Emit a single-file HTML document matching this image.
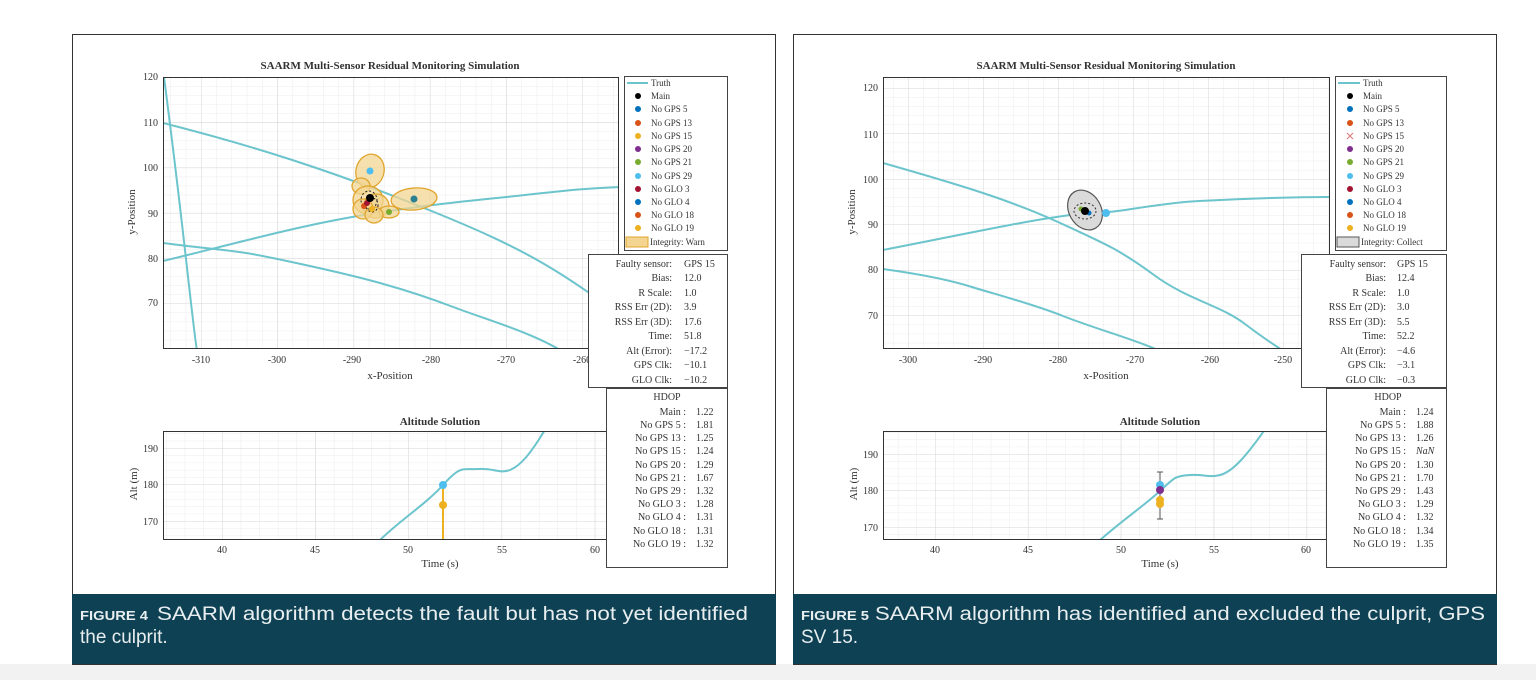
<!DOCTYPE html>
<html><head><meta charset="utf-8"><style>
html,body{margin:0;padding:0;background:#fff;width:1536px;height:680px;overflow:hidden}
svg{display:block}
.t{font-family:"Liberation Serif",serif;fill:#333}
.c{font-family:"Liberation Sans",sans-serif;fill:#e8eef0}
</style></head><body>
<svg width="1536" height="680" viewBox="0 0 1536 680" xmlns="http://www.w3.org/2000/svg">
<defs>
<pattern id="g1" patternUnits="userSpaceOnUse" x="201" y="77" width="15.26" height="9.06"><path d="M0 0V9.06M0 0H15.26" stroke="#ececec" stroke-width="1" fill="none"/></pattern>
<pattern id="G1" patternUnits="userSpaceOnUse" x="201" y="77" width="76.3" height="45.3"><path d="M0 0V45.3M0 0H76.3" stroke="#d6d6d6" stroke-width="1" fill="none"/></pattern>
<pattern id="g2" patternUnits="userSpaceOnUse" x="908" y="88" width="15" height="9.1"><path d="M0 0V9.1M0 0H15" stroke="#ececec" stroke-width="1" fill="none"/></pattern>
<pattern id="G2" patternUnits="userSpaceOnUse" x="908" y="88" width="75" height="45.5"><path d="M0 0V45.5M0 0H75" stroke="#d6d6d6" stroke-width="1" fill="none"/></pattern>
<pattern id="a1" patternUnits="userSpaceOnUse" x="222" y="448" width="18.64" height="7.3"><path d="M0 0V7.3M0 0H18.64" stroke="#ececec" stroke-width="1" fill="none"/></pattern>
<pattern id="A1" patternUnits="userSpaceOnUse" x="222" y="448" width="93.2" height="36.5"><path d="M0 0V36.5M0 0H93.2" stroke="#d6d6d6" stroke-width="1" fill="none"/></pattern>
<pattern id="a2" patternUnits="userSpaceOnUse" x="935" y="454" width="18.58" height="7.3"><path d="M0 0V7.3M0 0H18.58" stroke="#ececec" stroke-width="1" fill="none"/></pattern>
<pattern id="A2" patternUnits="userSpaceOnUse" x="935" y="454" width="92.9" height="36.5"><path d="M0 0V36.5M0 0H92.9" stroke="#d6d6d6" stroke-width="1" fill="none"/></pattern>
<clipPath id="c1"><rect x="163" y="77" width="455" height="271"/></clipPath>
<clipPath id="c2"><rect x="883" y="77" width="446" height="271"/></clipPath>
<clipPath id="ca1"><rect x="163" y="431" width="554" height="108"/></clipPath>
<clipPath id="ca2"><rect x="883" y="431" width="554" height="108"/></clipPath>
</defs>
<rect x="0" y="664" width="1536" height="16" fill="#f2f2f2"/>

<!-- ================= PANEL 1 ================= -->
<rect x="72.5" y="34.5" width="703" height="630" fill="#fff" stroke="#333" stroke-width="1"/>
<text class="t" x="390" y="69" font-size="11" font-weight="bold" text-anchor="middle">SAARM Multi-Sensor Residual Monitoring Simulation</text>
<rect x="163" y="77" width="455" height="271" fill="url(#g1)"/>
<rect x="163" y="77" width="455" height="271" fill="url(#G1)"/>
<g clip-path="url(#c1)" fill="none" stroke="#6cc4cc" stroke-width="2">
<path d="M164 77 Q176 170 186 259 T197 350"/>
<path d="M163 123 C250 145 330 170 429 210 S 560 270 640 330"/>
<path d="M163 261 C230 245 300 225 370 214 S 480 200 525 195 S 590 188 620 187"/>
<path d="M163 243 C200 248 230 250 252 254 S 330 270 365 279 S 430 298 456 308 S 530 332 560 350"/>
</g>
<g clip-path="url(#c1)">
<g fill="#f3d591" fill-opacity="0.75" stroke="#e0a52e" stroke-width="1.3">
<ellipse cx="370" cy="171" rx="14" ry="17" transform="rotate(15 370 171)"/>
<ellipse cx="414" cy="199" rx="23" ry="11" transform="rotate(-5 414 199)"/>
<ellipse cx="361" cy="186" rx="9" ry="8"/>
<ellipse cx="368" cy="200" rx="15" ry="14"/>
<ellipse cx="376" cy="206" rx="13" ry="12"/>
<ellipse cx="363" cy="209" rx="10" ry="10"/>
<ellipse cx="389" cy="212" rx="10" ry="6"/>
<ellipse cx="374" cy="215" rx="9" ry="8"/>
</g>
<g fill="none" stroke="#222" stroke-width="1" stroke-dasharray="2 2">
<ellipse cx="369" cy="200" rx="8" ry="9"/><ellipse cx="372" cy="205" rx="6" ry="7"/>
</g>
<circle cx="370" cy="171" r="3.5" fill="#4dbeee"/>
<circle cx="414" cy="199" r="3.5" fill="#2d7f92"/>
<circle cx="389" cy="212" r="3" fill="#77ac30"/>
<circle cx="364" cy="206" r="3" fill="#d95319"/>
<circle cx="367" cy="203" r="3" fill="#a2142f"/>
<circle cx="372" cy="209" r="3" fill="#edb120"/>
<circle cx="370" cy="198" r="4" fill="#000"/>
</g>
<rect x="163.5" y="77.5" width="455" height="271" fill="none" stroke="#333"/>
<g class="t" font-size="10" text-anchor="end">
<text x="158" y="80">120</text><text x="158" y="126">110</text><text x="158" y="171">100</text><text x="158" y="217">90</text><text x="158" y="262">80</text><text x="158" y="306">70</text>
</g>
<g class="t" font-size="10" text-anchor="middle">
<text x="201" y="363">-310</text><text x="277" y="363">-300</text><text x="352" y="363">-290</text><text x="431" y="363">-280</text><text x="506" y="363">-270</text><text x="582" y="363">-260</text>
</g>
<text class="t" x="390" y="379" font-size="11" text-anchor="middle">x-Position</text>
<text class="t" x="135" y="212" font-size="11" text-anchor="middle" transform="rotate(-90 135 212)">y-Position</text>

<!-- legend 1 -->
<rect x="624.5" y="76.5" width="103" height="174" fill="#fff" stroke="#444"/>
<g class="t" font-size="9">
<line x1="627" y1="83" x2="648" y2="83" stroke="#6cc4cc" stroke-width="2"/><text x="651" y="86">Truth</text>
<circle cx="638" cy="96" r="3" fill="#000"/><text x="651" y="99">Main</text>
<circle cx="638" cy="109" r="3" fill="#0072bd"/><text x="651" y="112">No GPS 5</text>
<circle cx="638" cy="123" r="3" fill="#d95319"/><text x="651" y="126">No GPS 13</text>
<circle cx="638" cy="136" r="3" fill="#edb120"/><text x="651" y="139">No GPS 15</text>
<circle cx="638" cy="149" r="3" fill="#7e2f8e"/><text x="651" y="152">No GPS 20</text>
<circle cx="638" cy="162" r="3" fill="#77ac30"/><text x="651" y="165">No GPS 21</text>
<circle cx="638" cy="176" r="3" fill="#4dbeee"/><text x="651" y="179">No GPS 29</text>
<circle cx="638" cy="189" r="3" fill="#a2142f"/><text x="651" y="192">No GLO 3</text>
<circle cx="638" cy="202" r="3" fill="#0072bd"/><text x="651" y="205">No GLO 4</text>
<circle cx="638" cy="215" r="3" fill="#d95319"/><text x="651" y="218">No GLO 18</text>
<circle cx="638" cy="228" r="3" fill="#edb120"/><text x="651" y="231">No GLO 19</text>
<rect x="626" y="237" width="22" height="10" fill="#f3d591" stroke="#e0a52e"/><text x="650" y="245">Integrity: Warn</text>
</g>
<!-- info 1 -->
<rect x="588.5" y="254.5" width="139" height="133" fill="#fff" stroke="#444"/>
<g class="t" font-size="10">
<g text-anchor="end">
<text x="672" y="267">Faulty sensor:</text><text x="672" y="281">Bias:</text><text x="672" y="296">R Scale:</text><text x="672" y="310">RSS Err (2D):</text><text x="672" y="325">RSS Err (3D):</text><text x="672" y="339">Time:</text><text x="672" y="354">Alt (Error):</text><text x="672" y="368">GPS Clk:</text><text x="672" y="383">GLO Clk:</text>
</g>
<text x="684" y="267">GPS 15</text><text x="684" y="281">12.0</text><text x="684" y="296">1.0</text><text x="684" y="310">3.9</text><text x="684" y="325">17.6</text><text x="684" y="339">51.8</text><text x="684" y="354">−17.2</text><text x="684" y="368">−10.1</text><text x="684" y="383">−10.2</text>
</g>

<!-- alt 1 -->
<text class="t" x="440" y="425" font-size="11" font-weight="bold" text-anchor="middle">Altitude Solution</text>
<rect x="163" y="431" width="554" height="108" fill="url(#a1)"/>
<rect x="163" y="431" width="554" height="108" fill="url(#A1)"/>
<g clip-path="url(#ca1)">
<path d="M379 541 C400 520 425 505 443 485 S 462 470 478 469 S 500 474 510 470 S 530 455 546 428" fill="none" stroke="#6cc4cc" stroke-width="2"/>
<line x1="443" y1="486" x2="443" y2="540" stroke="#edb120" stroke-width="2"/>
<circle cx="443" cy="505" r="4" fill="#edb120"/>
<circle cx="443" cy="485" r="4" fill="#4dbeee"/>
</g>
<rect x="163.5" y="431.5" width="554" height="108" fill="none" stroke="#333"/>
<g class="t" font-size="10" text-anchor="end">
<text x="158" y="452">190</text><text x="158" y="488">180</text><text x="158" y="525">170</text>
</g>
<g class="t" font-size="10" text-anchor="middle">
<text x="222" y="553">40</text><text x="315" y="553">45</text><text x="408" y="553">50</text><text x="502" y="553">55</text><text x="595" y="553">60</text>
</g>
<text class="t" x="440" y="567" font-size="11" text-anchor="middle">Time (s)</text>
<text class="t" x="137" y="484" font-size="11" text-anchor="middle" transform="rotate(-90 137 484)">Alt (m)</text>
<!-- hdop 1 -->
<rect x="606.5" y="388.5" width="121" height="179" fill="#fff" stroke="#444"/>
<g class="t" font-size="10">
<text x="667" y="400" text-anchor="middle">HDOP</text>
<g text-anchor="end">
<text x="686" y="415">Main :</text><text x="686" y="428">No GPS 5 :</text><text x="686" y="441">No GPS 13 :</text><text x="686" y="454">No GPS 15 :</text><text x="686" y="468">No GPS 20 :</text><text x="686" y="481">No GPS 21 :</text><text x="686" y="494">No GPS 29 :</text><text x="686" y="507">No GLO 3 :</text><text x="686" y="520">No GLO 4 :</text><text x="686" y="534">No GLO 18 :</text><text x="686" y="547">No GLO 19 :</text>
</g>
<text x="696" y="415">1.22</text><text x="696" y="428">1.81</text><text x="696" y="441">1.25</text><text x="696" y="454">1.24</text><text x="696" y="468">1.29</text><text x="696" y="481">1.67</text><text x="696" y="494">1.32</text><text x="696" y="507">1.28</text><text x="696" y="520">1.31</text><text x="696" y="534">1.31</text><text x="696" y="547">1.32</text>
</g>
<!-- caption 1 -->
<rect x="72" y="594" width="704" height="70" fill="#0e4153"/>
<text class="c" x="80" y="620" font-size="13" font-weight="bold" textLength="68" lengthAdjust="spacingAndGlyphs">FIGURE 4</text>
<text class="c" x="157" y="620" font-size="19" textLength="591" lengthAdjust="spacingAndGlyphs">SAARM algorithm detects the fault but has not yet identified</text>
<text class="c" x="80" y="643" font-size="19">the culprit.</text>

<!-- ================= PANEL 2 ================= -->
<rect x="793.5" y="34.5" width="703" height="630" fill="#fff" stroke="#333" stroke-width="1"/>
<text class="t" x="1106" y="69" font-size="11" font-weight="bold" text-anchor="middle">SAARM Multi-Sensor Residual Monitoring Simulation</text>
<rect x="883" y="77" width="446" height="271" fill="url(#g2)"/>
<rect x="883" y="77" width="446" height="271" fill="url(#G2)"/>
<g clip-path="url(#c2)" fill="none" stroke="#6cc4cc" stroke-width="2">
<path d="M883 163 C960 185 1010 200 1058 222 S 1120 250 1154 275 S 1220 305 1245 324 S 1275 345 1285 352"/>
<path d="M883 250 C960 235 1020 222 1063 216 S 1090 213 1108 212 S 1160 203 1199 201 S 1290 197 1330 197"/>
<path d="M883 269 C920 274 950 280 972 287 S 1030 303 1063 316 S 1130 338 1158 350"/>
</g>
<g clip-path="url(#c2)">
<ellipse cx="1085" cy="210" rx="16" ry="21" transform="rotate(-30 1085 210)" fill="#dadada" stroke="#555" stroke-width="1.2"/>
<ellipse cx="1085" cy="211" rx="11" ry="8" fill="none" stroke="#333" stroke-dasharray="2 2"/>
<circle cx="1106" cy="213" r="4" fill="#4dbeee"/>
<circle cx="1081" cy="209" r="2.5" fill="#77ac30"/>
<circle cx="1089" cy="213" r="2.5" fill="#0072bd"/>
<circle cx="1085" cy="211" r="4" fill="#000"/>
</g>
<rect x="883.5" y="77.5" width="446" height="271" fill="none" stroke="#333"/>
<g class="t" font-size="10" text-anchor="end">
<text x="878" y="91">120</text><text x="878" y="138">110</text><text x="878" y="183">100</text><text x="878" y="228">90</text><text x="878" y="273">80</text><text x="878" y="319">70</text>
</g>
<g class="t" font-size="10" text-anchor="middle">
<text x="908" y="363">-300</text><text x="983" y="363">-290</text><text x="1058" y="363">-280</text><text x="1135" y="363">-270</text><text x="1210" y="363">-260</text><text x="1283" y="363">-250</text>
</g>
<text class="t" x="1106" y="379" font-size="11" text-anchor="middle">x-Position</text>
<text class="t" x="855" y="212" font-size="11" text-anchor="middle" transform="rotate(-90 855 212)">y-Position</text>
<!-- legend 2 -->
<rect x="1335.5" y="76.5" width="111" height="174" fill="#fff" stroke="#444"/>
<g class="t" font-size="9">
<line x1="1338" y1="83" x2="1360" y2="83" stroke="#6cc4cc" stroke-width="2"/><text x="1363" y="86">Truth</text>
<circle cx="1350" cy="96" r="3" fill="#000"/><text x="1363" y="99">Main</text>
<circle cx="1350" cy="109" r="3" fill="#0072bd"/><text x="1363" y="112">No GPS 5</text>
<circle cx="1350" cy="123" r="3" fill="#d95319"/><text x="1363" y="126">No GPS 13</text>
<path d="M1347 133l6 6M1353 133l-6 6" stroke="#d98080" stroke-width="1.2"/><text x="1363" y="139">No GPS 15</text>
<circle cx="1350" cy="149" r="3" fill="#7e2f8e"/><text x="1363" y="152">No GPS 20</text>
<circle cx="1350" cy="162" r="3" fill="#77ac30"/><text x="1363" y="165">No GPS 21</text>
<circle cx="1350" cy="176" r="3" fill="#4dbeee"/><text x="1363" y="179">No GPS 29</text>
<circle cx="1350" cy="189" r="3" fill="#a2142f"/><text x="1363" y="192">No GLO 3</text>
<circle cx="1350" cy="202" r="3" fill="#0072bd"/><text x="1363" y="205">No GLO 4</text>
<circle cx="1350" cy="215" r="3" fill="#d95319"/><text x="1363" y="218">No GLO 18</text>
<circle cx="1350" cy="228" r="3" fill="#edb120"/><text x="1363" y="231">No GLO 19</text>
<rect x="1337" y="237" width="22" height="10" fill="#dadada" stroke="#555"/><text x="1361" y="245">Integrity: Collect</text>
</g>
<!-- info 2 -->
<rect x="1301.5" y="254.5" width="145" height="133" fill="#fff" stroke="#444"/>
<g class="t" font-size="10">
<g text-anchor="end">
<text x="1386" y="267">Faulty sensor:</text><text x="1386" y="281">Bias:</text><text x="1386" y="296">R Scale:</text><text x="1386" y="310">RSS Err (2D):</text><text x="1386" y="325">RSS Err (3D):</text><text x="1386" y="339">Time:</text><text x="1386" y="354">Alt (Error):</text><text x="1386" y="368">GPS Clk:</text><text x="1386" y="383">GLO Clk:</text>
</g>
<text x="1397" y="267">GPS 15</text><text x="1397" y="281">12.4</text><text x="1397" y="296">1.0</text><text x="1397" y="310">3.0</text><text x="1397" y="325">5.5</text><text x="1397" y="339">52.2</text><text x="1397" y="354">−4.6</text><text x="1397" y="368">−3.1</text><text x="1397" y="383">−0.3</text>
</g>
<!-- alt 2 -->
<text class="t" x="1160" y="425" font-size="11" font-weight="bold" text-anchor="middle">Altitude Solution</text>
<rect x="883" y="431" width="554" height="108" fill="url(#a2)"/>
<rect x="883" y="431" width="554" height="108" fill="url(#A2)"/>
<g clip-path="url(#ca2)">
<path d="M1099 541 C1120 522 1145 505 1160 491 S 1175 476 1190 475 S 1208 478 1220 475 S 1245 458 1266 428" fill="none" stroke="#6cc4cc" stroke-width="2"/>
<line x1="1160" y1="472" x2="1160" y2="519" stroke="#555" stroke-width="1"/>
<line x1="1157" y1="472" x2="1163" y2="472" stroke="#555"/><line x1="1157" y1="519" x2="1163" y2="519" stroke="#555"/>
<circle cx="1160" cy="485" r="4" fill="#4dbeee"/>
<circle cx="1160" cy="490" r="4" fill="#7e2f8e"/>
<circle cx="1160" cy="500" r="4" fill="#edb120"/>
<circle cx="1160" cy="504" r="4" fill="#edb120"/>
</g>
<rect x="883.5" y="431.5" width="554" height="108" fill="none" stroke="#333"/>
<g class="t" font-size="10" text-anchor="end">
<text x="878" y="458">190</text><text x="878" y="494">180</text><text x="878" y="531">170</text>
</g>
<g class="t" font-size="10" text-anchor="middle">
<text x="935" y="553">40</text><text x="1028" y="553">45</text><text x="1121" y="553">50</text><text x="1214" y="553">55</text><text x="1306" y="553">60</text>
</g>
<text class="t" x="1160" y="567" font-size="11" text-anchor="middle">Time (s)</text>
<text class="t" x="857" y="484" font-size="11" text-anchor="middle" transform="rotate(-90 857 484)">Alt (m)</text>
<!-- hdop 2 -->
<rect x="1326.5" y="388.5" width="120" height="179" fill="#fff" stroke="#444"/>
<g class="t" font-size="10">
<text x="1388" y="400" text-anchor="middle">HDOP</text>
<g text-anchor="end">
<text x="1406" y="415">Main :</text><text x="1406" y="428">No GPS 5 :</text><text x="1406" y="441">No GPS 13 :</text><text x="1406" y="454">No GPS 15 :</text><text x="1406" y="468">No GPS 20 :</text><text x="1406" y="481">No GPS 21 :</text><text x="1406" y="494">No GPS 29 :</text><text x="1406" y="507">No GLO 3 :</text><text x="1406" y="520">No GLO 4 :</text><text x="1406" y="534">No GLO 18 :</text><text x="1406" y="547">No GLO 19 :</text>
</g>
<text x="1416" y="415">1.24</text><text x="1416" y="428">1.88</text><text x="1416" y="441">1.26</text><text x="1416" y="454" font-style="italic">NaN</text><text x="1416" y="468">1.30</text><text x="1416" y="481">1.70</text><text x="1416" y="494">1.43</text><text x="1416" y="507">1.29</text><text x="1416" y="520">1.32</text><text x="1416" y="534">1.34</text><text x="1416" y="547">1.35</text>
</g>
<!-- caption 2 -->
<rect x="793" y="594" width="704" height="70" fill="#0e4153"/>
<text class="c" x="801" y="620" font-size="13" font-weight="bold" textLength="68" lengthAdjust="spacingAndGlyphs">FIGURE 5</text>
<text class="c" x="875" y="620" font-size="19" textLength="610" lengthAdjust="spacingAndGlyphs">SAARM algorithm has identified and excluded the culprit, GPS</text>
<text class="c" x="801" y="643" font-size="19">SV 15.</text>
</svg>
</body></html>
